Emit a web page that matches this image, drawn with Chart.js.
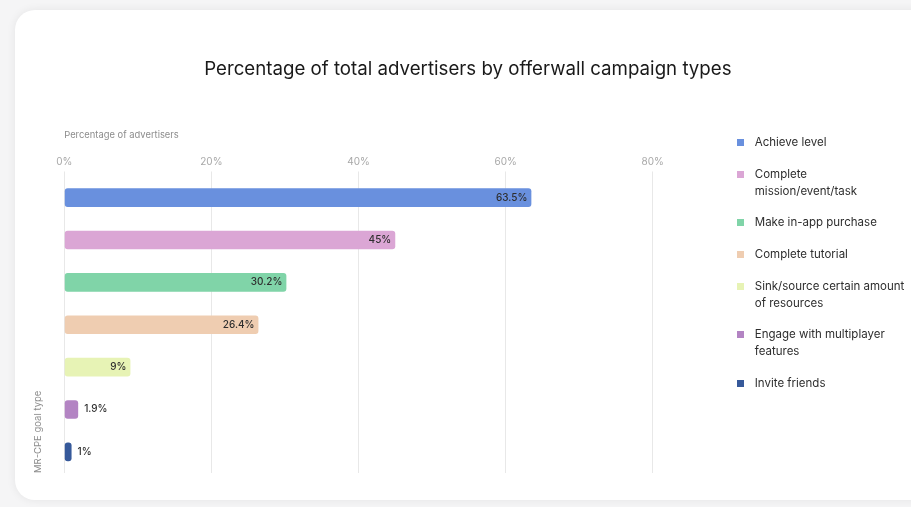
<!DOCTYPE html>
<html>
<head>
<meta charset="utf-8">
<script src="https://cdn.jsdelivr.net/npm/chart.js@4.4.1/dist/chart.umd.min.js"></script>
<style>
  html, body { margin: 0; padding: 0; width: 911px; height: 507px; overflow: hidden; background: #f5f5f6; }
  .card {
    position: absolute; left: 15px; top: 10px; width: 1000px; height: 490px;
    background: #fff; border-radius: 20px; box-shadow: 0 0 10px rgba(0, 0, 0, 0.07);
  }
  .wrap { position: absolute; left: 0; top: 0; width: 906px; height: 490px; }
</style>
</head>
<body>
<div class="card"><div class="wrap"><canvas id="offerwallChart"></canvas></div></div>
<script>
// goal types, already split into the lines shown in the legend
var goalTypes = [
  ["Achieve level"],
  ["Complete", "mission/event/task"],
  ["Make in-app purchase"],
  ["Complete tutorial"],
  ["Sink/source certain amount", "of resources"],
  ["Engage with multiplayer", "features"],
  ["Invite friends"]
];
var shares = [63.5, 45, 30.2, 26.4, 9, 1.9, 1];
var barColors = ["#6990de", "#dba6d5", "#80d4a8", "#efcdb1", "#e7f3b5", "#b384c3", "#36599a"];
var xTicks = [0, 20, 40, 60, 80];

var FONT = "Inter";
Chart.defaults.font.family = FONT;

// small square swatches for the legend
function swatch(color) {
  var c = document.createElement("canvas");
  c.width = 7;
  c.height = 7;
  var g = c.getContext("2d");
  g.fillStyle = color;
  g.fillRect(0, 0, 7, 7);
  return c;
}
var swatches = barColors.map(swatch);

// value labels: inside the bar end when there is room, otherwise just after it
var barValueLabels = {
  id: "barValueLabels",
  afterDatasetsDraw: function(chart) {
    var ctx = chart.ctx;
    var meta = chart.getDatasetMeta(0);
    ctx.save();
    ctx.font = "500 10px " + FONT;
    ctx.fillStyle = "#2e2e2e";
    ctx.textBaseline = "middle";
    meta.data.forEach(function(bar, i) {
      var label = shares[i] + "%";
      var w = ctx.measureText(label).width;
      if (bar.x - bar.base > w + 10) {
        ctx.textAlign = "right";
        ctx.fillText(label, bar.x - 4, bar.y);
      } else {
        ctx.textAlign = "left";
        ctx.fillText(label, bar.x + 6, bar.y);
      }
    });
    ctx.restore();
  }
};

var chart = new Chart("offerwallChart", {
  type: "bar",
  data: {
    labels: goalTypes,
    datasets: [{
      data: shares,
      backgroundColor: barColors,
      borderRadius: 3,
      borderSkipped: false,
      barPercentage: 0.44,
      categoryPercentage: 1
    }]
  },
  options: {
    indexAxis: "y",
    responsive: true,
    maintainAspectRatio: false,
    animation: false,
    layout: {
      padding: { left: 6.5, right: 6.75, top: 0, bottom: 27 }
    },
    scales: {
      x: {
        position: "top",
        min: 0,
        max: 88.6,
        afterBuildTicks: function(axis) {
          axis.ticks = xTicks.map(function(v) { return { value: v }; });
        },
        ticks: {
          callback: function(v) { return v + "%"; },
          color: "#a8a8a8",
          font: { size: 10 },
          padding: 3
        },
        grid: { color: "#e8e8e8", tickLength: 5 },
        border: { display: false },
        title: {
          display: true,
          text: "Percentage of advertisers",
          align: "start",
          color: "#8c8c8c",
          font: { size: 9.4, lineHeight: 1.28 },
          padding: { top: 8, bottom: 12 }
        }
      },
      y: {
        ticks: { display: false },
        grid: { display: false, drawTicks: false },
        border: { display: false },
        title: {
          display: true,
          text: "MR-CPE goal type",
          align: "start",
          color: "#8c8c8c",
          font: { size: 9.5, lineHeight: 1.2 },
          padding: { top: 11, bottom: 20.3 }
        }
      }
    },
    plugins: {
      title: {
        display: true,
        text: "Percentage of total advertisers by offerwall campaign types",
        color: "#1a1a1a",
        font: { size: 18.7, weight: "normal", lineHeight: 1.2 },
        padding: { top: 48, bottom: 41 }
      },
      legend: {
        position: "right",
        align: "start",
        // blank title keeps the items level with the axis header
        title: {
          display: true,
          text: " ",
          font: { size: 12, lineHeight: 1.2 },
          padding: { top: 0, bottom: 97.6 }
        },
        labels: {
          usePointStyle: true,
          pointStyleWidth: 18,
          padding: 15,
          color: "#2e2e2e",
          font: { size: 11.5, lineHeight: 1.4565 },
          generateLabels: function(chart) {
            return goalTypes.map(function(lines, i) {
              return {
                text: lines,
                pointStyle: swatches[i],
                fillStyle: barColors[i],
                strokeStyle: barColors[i],
                lineWidth: 0,
                fontColor: "#2e2e2e",
                hidden: false,
                index: i
              };
            });
          }
        }
      },
      tooltip: { enabled: false }
    }
  },
  plugins: [barValueLabels]
});
</script>
</body>
</html>
